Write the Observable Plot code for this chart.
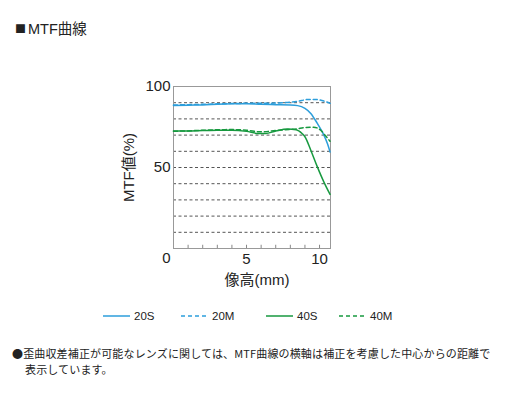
<!DOCTYPE html>
<html><head><meta charset="utf-8">
<script src="https://cdn.jsdelivr.net/npm/d3@7"></script>
<script src="https://cdn.jsdelivr.net/npm/@observablehq/plot@0.6"></script>
<style>
body{margin:0;background:#fff;}
#wrap{position:relative;width:524px;height:399px;overflow:hidden;font-family:"Liberation Sans","Noto Sans CJK JP",sans-serif;color:#222;}
#title{position:absolute;left:15px;top:20px;font-size:14.5px;line-height:18px;font-family:"Liberation Sans","Noto Sans CJK JP",sans-serif;}
#title .sq{font-family:"Noto Sans CJK JP";font-size:11px;position:relative;top:-1px;margin-right:2px;}
#chart{position:absolute;left:0;top:0;}
.leg{position:absolute;top:309px;font-size:11.5px;display:flex;align-items:center;}
.leg svg{margin-right:4px;}
#note{position:absolute;left:12px;top:345px;font-size:11px;line-height:16px;font-family:"Noto Sans CJK JP",sans-serif;letter-spacing:0.15px;}
</style></head>
<body><div id="wrap">
<div id="title"></div>
<div id="chart"></div>
<div id="legend"></div>
<div id="note"></div>
</div>
<script>
const titleText = "MTF曲線";
const xTitle = "像高(mm)";
const yTitle = "MTF値(%)";
const yTicks = [50, 100];
const xTicks = [5, 10];
const minorTicks = [1,2,3,4,5,6,7,8,9,10];
const gridLines = [10,20,30,40,50,60,70,80,90];
const seriesNames = ["20S","20M","40S","40M"];
const seriesColors = ["#2d9edb","#2d9edb","#17993f","#17993f"];
const seriesDashed = [false,true,false,true];
const x20S = [0,1,2,3,4,5,6,7,8,8.5,9,9.4,9.85,10.3,10.55,10.72];
const y20S = [88.3,88.5,88.6,89,89.3,89.4,89,88.8,88.6,88.2,86.5,83.4,77.2,70,64.5,59.6];
const x20M = [0,1,2,3,4,5,6,7,8,8.5,9.2,9.7,10.3,10.72];
const y20M = [88.6,88.8,89,89.3,89.5,89.6,89.6,89.8,90.3,90.8,92,92,91,89.6];
const x40S = [0,1,2,3,4,5,5.8,6.3,7,7.8,8.4,8.8,9,9.4,9.85,10.3,10.72];
const y40S = [72.6,72.5,72.8,73,73,72.3,71,71,72.5,73.7,73.3,71,69,60.7,50.4,41,33.4];
const x40M = [0,1,2,3,4,5,6,7,8,8.4,9,9.6,10.1,10.4,10.72];
const y40M = [72.4,72.6,73,73.3,73.4,73,72,72.8,73.5,73.8,74.7,74.9,72.8,69.7,66.2];
const noteLines = ["●歪曲収差補正が可能なレンズに関しては、MTF曲線の横軸は補正を考慮した中心からの距離で","表示しています。"];

const xs = [x20S,x20M,x40S,x40M], ys=[y20S,y20M,y40S,y40M];
const data = [];
seriesNames.forEach((s,i)=>xs[i].forEach((x,j)=>data.push({series:s,x,y:ys[i][j]})));

document.getElementById("title").innerHTML = '<span class="sq">■</span>' + titleText;

const lineMarks = seriesNames.map((s,i)=>Plot.line(data.filter(d=>d.series===s),{
  x:"x", y:"y", stroke: seriesColors[i], strokeWidth:1.5, curve:"monotone-x",
  strokeDasharray: seriesDashed[i] ? "4,3" : null}));

const chart = Plot.plot({
  width:524, height:300,
  marginTop:86, marginLeft:173, marginRight:194, marginBottom:52,
  x:{domain:[0,10.75]}, y:{domain:[0,100]},
  style:{fontFamily:'"Liberation Sans","Noto Sans CJK JP",sans-serif', fontSize:"15px", color:"#222", background:"transparent"},
  marks:[
    Plot.ruleY(gridLines,{stroke:"#555", strokeDasharray:"3,2.5", strokeWidth:1}),
    Plot.ruleX(minorTicks,{x:d=>d, y1:0, y2:2, stroke:"#888"}),
    Plot.frame({stroke:"#999"}),
    ...lineMarks,
    Plot.axisY(yTicks,{tickSize:0, tickPadding:3, label:null, fontSize:15}),
    Plot.axisY([0],{tickSize:0, tickPadding:3, label:null, fontSize:15, dy:10}),
    Plot.axisX(xTicks,{tickSize:0, tickPadding:5, label:null, fontSize:15}),
    Plot.text([yTitle],{frameAnchor:"left", textAnchor:"middle", dx:-44, rotate:-90, fontSize:15, fill:"#222", letterSpacing:"0.5px"}),
    Plot.text([xTitle],{frameAnchor:"bottom", dx:5, dy:36, fontSize:15, fill:"#222", letterSpacing:"1px"})
  ]
});
document.getElementById("chart").appendChild(chart);

const legendLeft = [103,181,266,339];
const leg = document.getElementById("legend");
seriesNames.forEach((s,i)=>{
  const d = document.createElement("div");
  d.className="leg"; d.style.left = legendLeft[i]+"px";
  d.innerHTML = `<svg width="27" height="14"><line x1="0" x2="27" y1="7" y2="7" stroke="${seriesColors[i]}" stroke-width="1.5" ${seriesDashed[i]?'stroke-dasharray="4,3"':''}/></svg><span>${s}</span>`;
  leg.appendChild(d);
});
document.getElementById("note").innerHTML = noteLines.map((l,i)=>`<div style="padding-left:${i?13:0}px">${l}</div>`).join("");
</script>
</body></html>
